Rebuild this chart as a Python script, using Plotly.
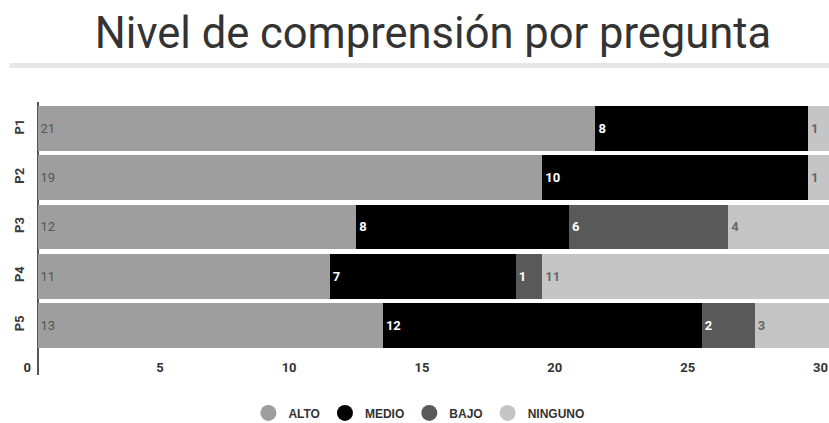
import plotly.graph_objects as go

# Comprehension level per question (number of students)
preguntas = ["P1", "P2", "P3", "P4", "P5"]
alto = [21, 19, 12, 11, 13]
medio = [8, 10, 8, 7, 12]
bajo = [0, 0, 6, 1, 2]
ninguno = [1, 1, 4, 11, 3]

x_ticks = [0, 5, 10, 15, 20, 25, 30]

series = [
    ("ALTO", alto, "#9e9e9e", "#555555", "normal"),
    ("MEDIO", medio, "#000000", "#ffffff", "bold"),
    ("BAJO", bajo, "#595959", "#ffffff", "bold"),
    ("NINGUNO", ninguno, "#c5c5c5", "#666666", "bold"),
]

fig = go.Figure()

for name, vals, color, txtcolor, weight in series:
    fig.add_trace(go.Bar(
        y=preguntas,
        x=vals,
        orientation="h",
        name=name,
        marker=dict(color=color, line=dict(width=0)),
        text=[str(v) if v else "" for v in vals],
        textposition="inside",
        insidetextanchor="start",
        textangle=0,
        constraintext="none",
        textfont=dict(family="Roboto", size=13, color=txtcolor, weight=weight),
        showlegend=False,
        hoverinfo="x+y+name",
    ))

# round legend markers
for name, vals, color, txtcolor, weight in series:
    fig.add_trace(go.Scatter(
        x=[None], y=[None], mode="markers", name=name,
        marker=dict(symbol="circle", size=17, color=color),
        showlegend=True,
    ))

# light rule under the title
fig.add_shape(
    type="line", xref="paper", yref="paper",
    x0=-0.023, x1=1.0, y0=1.134, y1=1.134,
    line=dict(color="#e6e6e6", width=5),
)

tick_offset = 0.25

fig.update_layout(
    width=829,
    height=423,
    margin=dict(l=28, r=0, t=102, b=48, autoexpand=False),
    paper_bgcolor="white",
    plot_bgcolor="white",
    barmode="stack",
    bargap=0.09,
    title=dict(
        text="Nivel de comprensión por pregunta",
        font=dict(family="Roboto", size=43.5, color="#333333"),
        x=433 / 829, xanchor="center", xref="container",
        y=1 - 33 / 423, yanchor="middle", yref="container",
    ),
    xaxis=dict(
        range=[-0.3575, 29.79],
        tickvals=[t - tick_offset for t in x_ticks],
        ticktext=[str(t) for t in x_ticks],
        ticklabelposition="inside left",
        ticklabeloverflow="allow",
        ticklabelstandoff=-6,
        tickfont=dict(family="Roboto", size=13, color="#333333", weight="bold"),
        showgrid=False,
        zeroline=True,
        zerolinecolor="#555555",
        zerolinewidth=2,
        showline=False,
        ticks="",
        fixedrange=True,
    ),
    yaxis=dict(
        type="category",
        categoryorder="array",
        categoryarray=preguntas,
        range=[5.01, -0.54],
        tickangle=-90,
        tickfont=dict(family="Roboto", size=13, color="#3a3a3a", weight="bold"),
        showgrid=False,
        zeroline=False,
        showline=False,
        ticks="",
        fixedrange=True,
    ),
    legend=dict(
        orientation="h",
        traceorder="normal",
        x=0.488, xanchor="center",
        y=-0.139, yanchor="middle",
        font=dict(family="Liberation Sans", size=12, color="#333333", weight="bold"),
    ),
    showlegend=True,
)

fig.write_html("out.html")
